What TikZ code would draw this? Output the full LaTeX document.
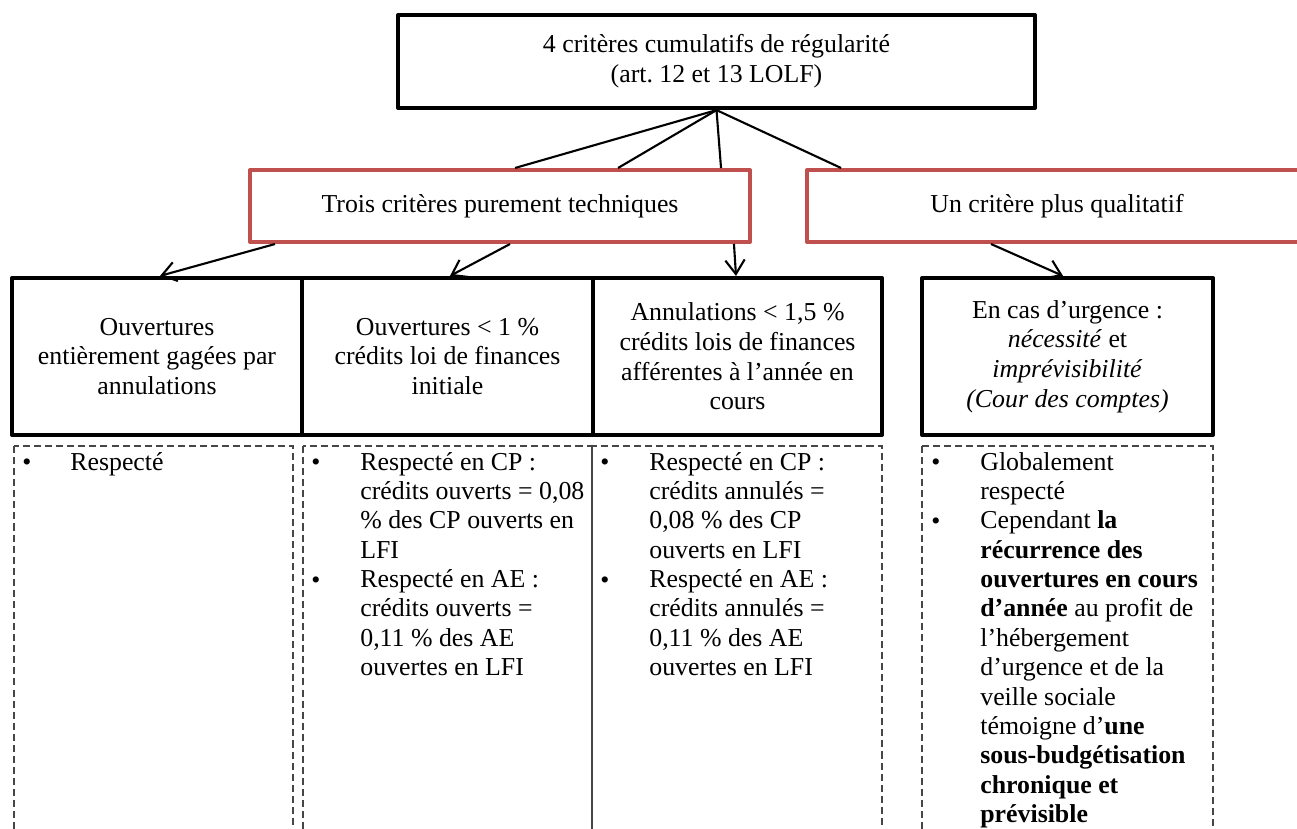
\documentclass[tikz,border=0pt]{standalone}
\usepackage{fontspec}
\setmainfont{Liberation Serif}
\usetikzlibrary{arrows.meta,calc}
\definecolor{redbox}{RGB}{192,80,77}
\definecolor{dashgray}{RGB}{70,70,70}
\frenchspacing
\begin{document}
\begin{tikzpicture}[x=0.02cm,y=-0.02cm,
  txt/.style={font=\fontsize{14.7pt}{16.9pt}\selectfont},
  blackbox/.style={draw=black,line width=2.4pt,line join=round,rectangle,align=center,inner sep=0pt,txt},
  redb/.style={draw=redbox,line width=2.3pt,line join=round,rectangle,align=center,inner sep=0pt,txt},
  conn/.style={line width=1.2pt},
  arr/.style={conn,-{Straight Barb[length=8pt,width=11pt]}},
  dashbox/.style={draw=dashgray,line width=0.8pt,dash pattern=on 4pt off 2.3pt},
  bul/.style={font=\fontsize{14.7pt}{16.72pt}\selectfont,anchor=base west,inner sep=0pt},
]
\useasboundingbox (0,0) rectangle (1297,828);
\clip (0,0) rectangle (1297,828);

% top box
\node[blackbox,minimum width=12.74cm,minimum height=1.86cm] (top) at (716.5,61.5)
  {4 critères cumulatifs de régularité\\(art. 12 et 13 LOLF)};

% red boxes
\node[redb,minimum width=10cm,minimum height=1.44cm] (trois) at (500,206)
  {Trois critères purement techniques};
\node[redb,minimum width=10cm,minimum height=1.44cm] (un) at (1057,206)
  {Un critère plus qualitatif};

% bottom boxes
\node[blackbox,minimum width=5.8cm,minimum height=3.14cm] (b1) at (157,356.5)
  {Ouvertures\\entièrement gagées par\\annulations};
\node[blackbox,minimum width=5.82cm,minimum height=3.14cm] (b2) at (447.5,356.5)
  {Ouvertures < 1 \%\\crédits loi de finances\\initiale};
\node[blackbox,minimum width=5.78cm,minimum height=3.14cm] (b3) at (737.5,356.5)
  {Annulations < 1,5 \%\\crédits lois de finances\\afférentes à l’année en\\cours};
\node[blackbox,minimum width=5.82cm,minimum height=3.14cm] (b4) at (1067.5,356.5)
  {En cas d’urgence :\\\textit{nécessité} et\\\textit{imprévisibilité}\\\textit{(Cour des comptes)}};

% connectors top -> red boxes
\draw[conn] (top.south) -- ($(trois.north west)+(267,0)$);
\draw[conn] (top.south) -- ($(trois.north west)+(370,0)$);
\draw[conn] (top.south) -- ($(trois.north west)+(473,0)$);
\draw[conn] (top.south) -- ($(un.north west)+(36,0)$);

% arrows red boxes -> bottom boxes
\draw[arr] ($(trois.south west)+(27,0)$) -- ($(b1.north)+(3,0)$);
\draw[arr] ($(trois.south west)+(262,0)$) -- ($(b2.north)+(2.5,0)$);
\draw[arr] ($(trois.south east)+(-18,0)$) -- ($(b3.north)+(-1.5,0)$);
\draw[arr] ($(un.south west)+(186,0)$) -- ($(b4.north)+(-4.5,0)$);

% dashed boxes
\draw[dashbox] (14,446) rectangle (293,900);
\draw[dashbox] (303,446) rectangle (592,900);
\draw[dashbox] (592,446) rectangle (882,900);
\draw[dashbox] (922,446) rectangle (1213,900);
\draw[draw=dashgray,line width=0.8pt] (592,446) -- (592,900);

% column 1
\node[bul] (d1b1) at (22,470) {•};
\node[bul] (d1t) at (70,470) {\parbox[t]{5cm}{Respecté}};

% column 2
\node[bul] (d2b1) at (311,470) {•};
\node[bul] (d2b2) at (311,588) {•};
\node[bul] (d2t) at (360,470) {\parbox[t]{6cm}{Respecté en CP :\\crédits ouverts = 0,08\\\% des CP ouverts en\\LFI\\Respecté en AE :\\crédits ouverts =\\0,11 \% des AE\\ouvertes en LFI}};

% column 3
\node[bul] (d3b1) at (600,470) {•};
\node[bul] (d3b2) at (600,588) {•};
\node[bul] (d3t) at (649,470) {\parbox[t]{6cm}{Respecté en CP :\\crédits annulés =\\0,08 \% des CP\\ouverts en LFI\\Respecté en AE :\\crédits annulés =\\0,11 \% des AE\\ouvertes en LFI}};

% column 4
\node[bul] (d4b1) at (931,470) {•};
\node[bul] (d4b2) at (931,529) {•};
\node[bul] (d4t) at (980,470) {\parbox[t]{6cm}{Globalement\\respecté\\Cependant \textbf{la}\\\textbf{récurrence des}\\\textbf{ouvertures en cours}\\\textbf{d’année} au profit de\\l’hébergement\\d’urgence et de la\\veille sociale\\témoigne d’\textbf{une}\\\textbf{sous-budgétisation}\\\textbf{chronique et}\\\textbf{prévisible}}};
\end{tikzpicture}
\end{document}
